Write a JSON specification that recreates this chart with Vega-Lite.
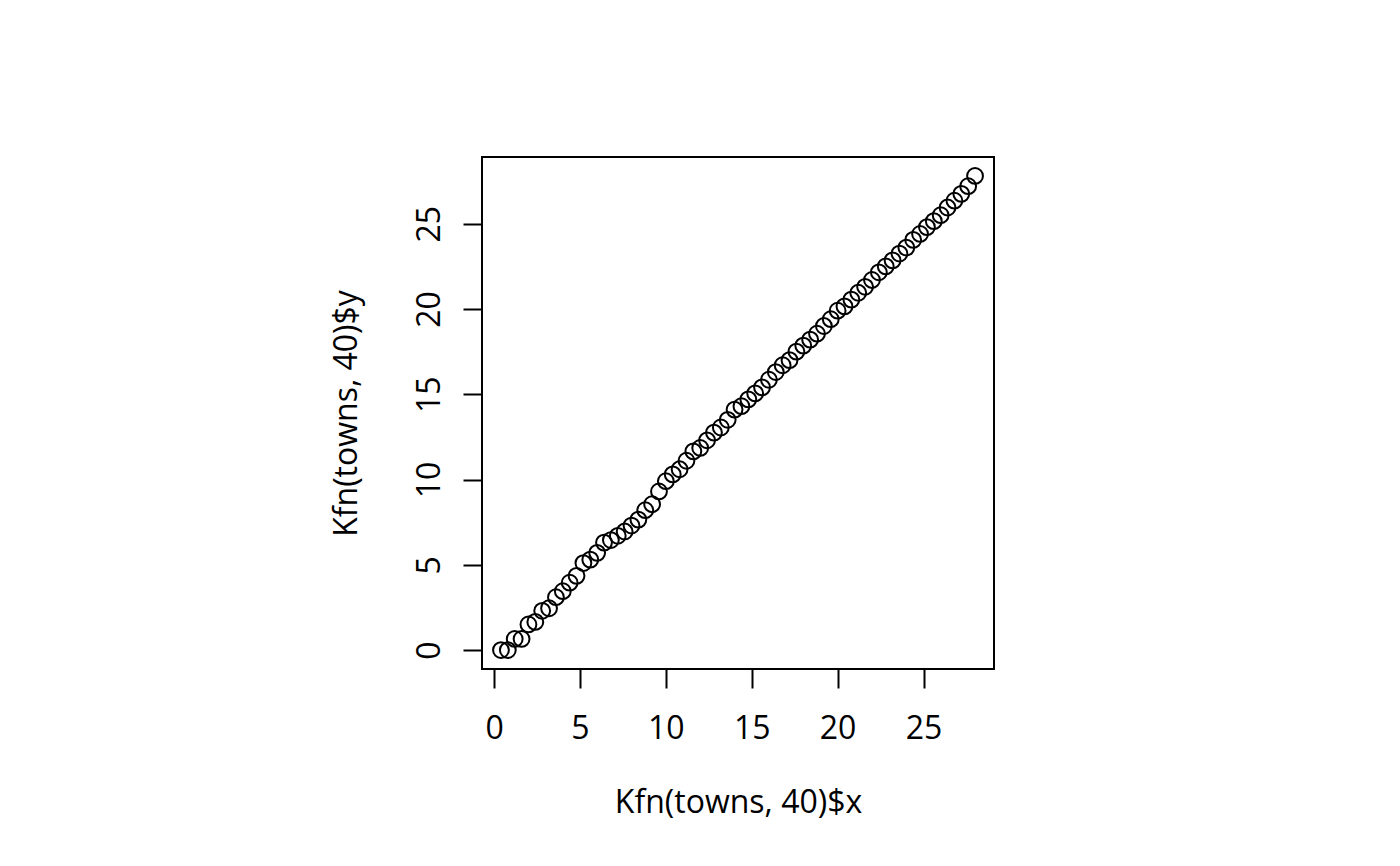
{
  "$schema": "https://vega.github.io/schema/vega-lite/v6.json",
  "width": 512,
  "height": 512,
  "autosize": {"type": "none"},
  "padding": {"left": 482, "top": 157, "right": 406, "bottom": 197},
  "background": "white",
  "config": {
    "view": {"stroke": "black", "strokeWidth": 2},
    "font": "Open Sans",
    "axis": {
      "grid": false,
      "domain": false,
      "tickColor": "black",
      "tickWidth": 2,
      "tickSize": 19,
      "labelFont": "Open Sans",
      "labelFontSize": 32,
      "labelColor": "black",
      "labelFontWeight": "normal",
      "titleFont": "Open Sans",
      "titleFontSize": 32,
      "titleFontWeight": "normal",
      "titleColor": "black",
      "labelBaseline": "alphabetic",
      "titleBaseline": "alphabetic"
    }
  },
  "data": {
    "values": [
      {"x": 0.4, "y": 0.0}, {"x": 0.8, "y": 0.0}, {"x": 1.2, "y": 0.65}, {"x": 1.6, "y": 0.65},
      {"x": 2.0, "y": 1.5}, {"x": 2.4, "y": 1.65}, {"x": 2.8, "y": 2.3}, {"x": 3.2, "y": 2.45},
      {"x": 3.6, "y": 3.1}, {"x": 4.0, "y": 3.45}, {"x": 4.4, "y": 3.95}, {"x": 4.8, "y": 4.35},
      {"x": 5.2, "y": 5.1}, {"x": 5.6, "y": 5.3}, {"x": 6.0, "y": 5.7}, {"x": 6.4, "y": 6.3},
      {"x": 6.8, "y": 6.45}, {"x": 7.2, "y": 6.7}, {"x": 7.6, "y": 6.95}, {"x": 8.0, "y": 7.3},
      {"x": 8.4, "y": 7.65}, {"x": 8.8, "y": 8.2}, {"x": 9.2, "y": 8.55}, {"x": 9.6, "y": 9.3},
      {"x": 10.0, "y": 9.9}, {"x": 10.4, "y": 10.3}, {"x": 10.8, "y": 10.6}, {"x": 11.2, "y": 11.1},
      {"x": 11.6, "y": 11.65}, {"x": 12.0, "y": 11.85}, {"x": 12.4, "y": 12.3}, {"x": 12.8, "y": 12.75},
      {"x": 13.2, "y": 13.05}, {"x": 13.6, "y": 13.5}, {"x": 14.0, "y": 14.1}, {"x": 14.4, "y": 14.3},
      {"x": 14.8, "y": 14.7}, {"x": 15.2, "y": 15.05}, {"x": 15.6, "y": 15.4}, {"x": 16.0, "y": 15.85},
      {"x": 16.4, "y": 16.3}, {"x": 16.8, "y": 16.7}, {"x": 17.2, "y": 17.0}, {"x": 17.6, "y": 17.5},
      {"x": 18.0, "y": 17.85}, {"x": 18.4, "y": 18.2}, {"x": 18.8, "y": 18.55}, {"x": 19.2, "y": 19.0},
      {"x": 19.6, "y": 19.4}, {"x": 20.0, "y": 19.9}, {"x": 20.4, "y": 20.15}, {"x": 20.8, "y": 20.55},
      {"x": 21.2, "y": 20.95}, {"x": 21.6, "y": 21.3}, {"x": 22.0, "y": 21.7}, {"x": 22.4, "y": 22.15},
      {"x": 22.8, "y": 22.5}, {"x": 23.2, "y": 22.85}, {"x": 23.6, "y": 23.25}, {"x": 24.0, "y": 23.6},
      {"x": 24.4, "y": 24.05}, {"x": 24.8, "y": 24.4}, {"x": 25.2, "y": 24.8}, {"x": 25.6, "y": 25.15},
      {"x": 26.0, "y": 25.5}, {"x": 26.4, "y": 25.95}, {"x": 26.8, "y": 26.35}, {"x": 27.2, "y": 26.75},
      {"x": 27.6, "y": 27.2}, {"x": 28.0, "y": 27.8}
    ]
  },
  "mark": {"type": "point", "shape": "circle", "filled": false, "stroke": "black", "strokeWidth": 2, "size": 250, "opacity": 1},
  "encoding": {
    "x": {
      "field": "x",
      "type": "quantitative",
      "title": "Kfn(towns, 40)$x",
      "scale": {"domain": [-0.704, 29.104], "nice": false, "zero": false},
      "axis": {"values": [0, 5, 10, 15, 20, 25], "labelPadding": 50, "titlePadding": 68, "labelAngle": 0}
    },
    "y": {
      "field": "y",
      "type": "quantitative",
      "title": "Kfn(towns, 40)$y",
      "scale": {"domain": [-1.112, 28.912], "nice": false, "zero": false},
      "axis": {"values": [0, 5, 10, 15, 20, 25], "labelPadding": 24, "titlePadding": 57, "labelAngle": -90, "labelAlign": "center"}
    }
  }
}
